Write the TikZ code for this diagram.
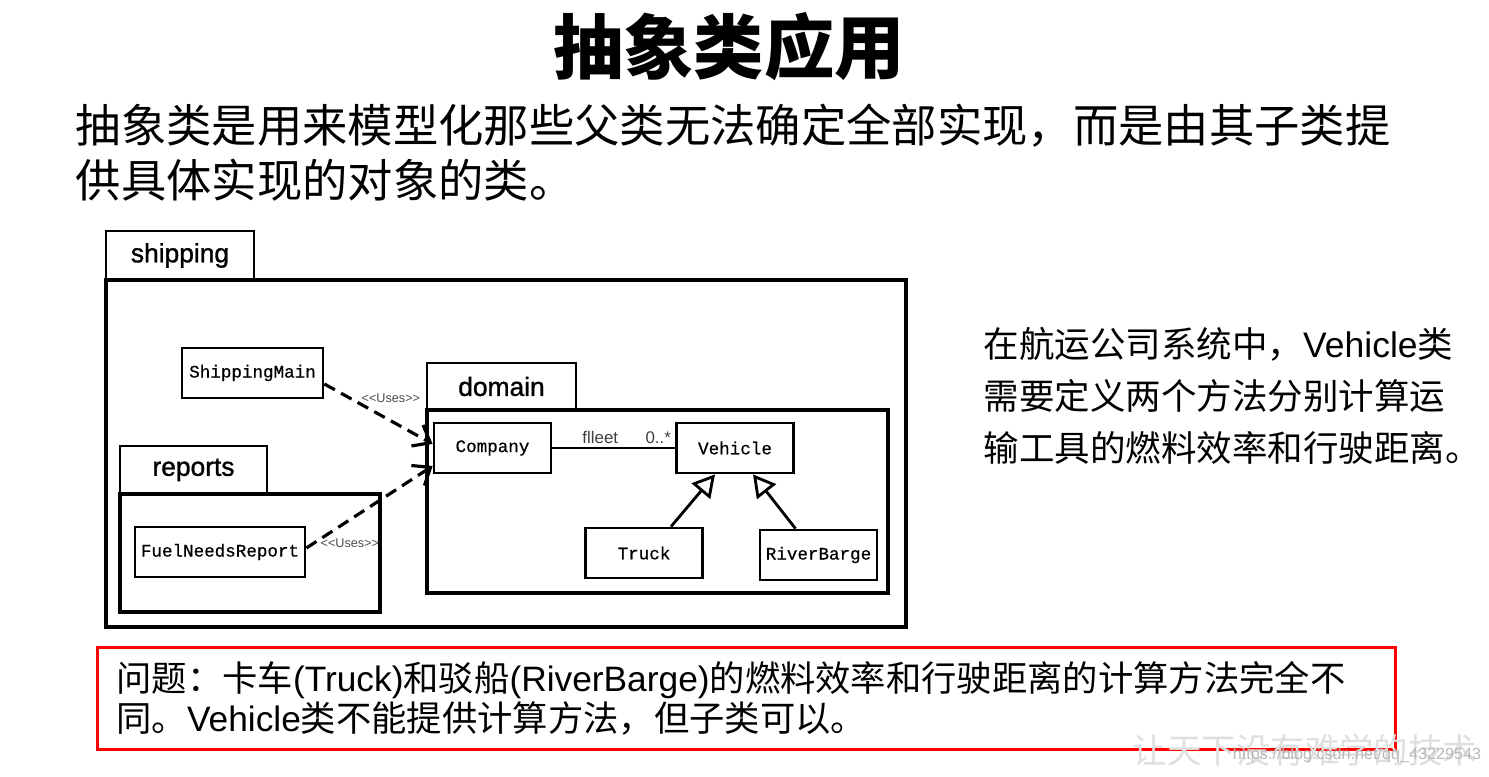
\documentclass[tikz,border=0pt]{standalone}
\usepackage{fontspec}
\setmainfont{Noto Sans CJK SC}
\newfontfamily\arialfont{Liberation Sans}
\newfontfamily\pkgface[FakeBold=1.2]{Liberation Sans}
\newfontfamily\courfont[FakeBold=0.6]{Liberation Mono}
\usetikzlibrary{arrows.meta}
\newcommand{\lat}[1]{{\arialfont #1}}
\newcommand{\titlefont}{\bfseries\fontsize{20}{24}\selectfont}
\newcommand{\bodyfont}{\fontsize{12.9}{15.6}\selectfont}
\newcommand{\notefont}{\fontsize{10.1}{14.8}\selectfont}
\newcommand{\pkgfont}{\pkgface\fontsize{7.5}{8}\selectfont}
\newcommand{\clsfont}{\courfont\fontsize{5}{6}\selectfont}
\newcommand{\usesfont}{\arialfont\fontsize{3.6}{4}\selectfont}
\newcommand{\assocfont}{\arialfont\fontsize{4.8}{5}\selectfont}

\tikzset{
  pkgtab/.style={draw, line width=0.8pt, inner sep=0pt, font=\pkgfont},
  pkgbody/.style={draw, line width=0.9pt, inner sep=0pt},
  cls/.style={draw, line width=0.8pt, minimum width=11.7mm, minimum height=5mm, inner sep=0pt, font=\clsfont},
  uses/.style={line width=0.9pt, dash pattern=on 1.2mm off 0.7mm, -{Straight Barb[length=1.5mm,width=2.4mm]}},
  usestag/.style={font=\usesfont, text=black!70, inner sep=0pt},
  gen/.style={line width=0.8pt, -{Triangle[open, length=2.2mm, width=2.4mm]}},
}

\begin{document}
\begin{tikzpicture}[x=0.1mm, y=-0.1mm]
\useasboundingbox (0,0) rectangle (1489,777);

% heading and text
\node[font=\titlefont] (title) at (729,47) {抽象类应用};
\node[anchor=north west, inner sep=0pt, align=left, font=\bodyfont] (intro) at (75,103)
  {抽象类是用来模型化那些父类无法确定全部实现，而是由其子类提\\供具体实现的对象的类。};
\node[anchor=north west, inner sep=0pt, align=left, font=\notefont] (note) at (983,327)
  {在航运公司系统中，\lat{Vehicle}类\\需要定义两个方法分别计算运\\输工具的燃料效率和行驶距离。};

% packages
\node[pkgbody, minimum width=80mm, minimum height=34.7mm] (shipbody) at (506,453.5) {};
\node[pkgtab, minimum width=14.8mm, minimum height=4.9mm] (shiptab) at (180,255.5) {shipping};
\node[pkgbody, minimum width=46.1mm, minimum height=18.3mm] (dombody) at (657.5,501.5) {};
\node[pkgtab, minimum width=14.9mm, minimum height=4.7mm] (domtab) at (501.5,386.5) {domain};
\node[pkgbody, minimum width=26mm, minimum height=11.8mm] (repbody) at (250,553) {};
\node[pkgtab, minimum width=14.7mm, minimum height=4.8mm] (reptab) at (193.5,470) {reports};

% classes
\node[cls, minimum width=14.1mm] (shipmain) at (252.5,373) {ShippingMain};
\node[cls, minimum width=17mm] (fuel) at (220,552) {FuelNeedsReport};
\node[cls] (company) at (492.5,448) {Company};
\node[cls] (vehicle) at (735,448) {Vehicle};
\node[cls] (truck) at (644,553) {Truck};
\node[cls] (barge) at (818.5,555) {RiverBarge};

% dependencies
\draw[uses] ([yshift=-1.1mm]shipmain.east) -- ([yshift=0.4mm]company.west)
  node[usestag, pos=0.33, anchor=west, yshift=0.6mm] {<<Uses>>};
\draw[uses] ([yshift=0.4mm]fuel.east) -- ([yshift=-1.8mm]company.west)
  node[usestag, pos=0.1, anchor=west, yshift=-0.3mm] {<<Uses>>};

% association and inheritance
\draw[line width=0.8pt] (company) -- (vehicle)
  node[font=\assocfont, text=black!75, pos=0.39, above, inner sep=0.8pt] {flleet}
  node[font=\assocfont, text=black!75, pos=1, above left, inner sep=0.8pt] {0..*};
\draw[gen] ([xshift=2.7mm]truck.north) -- ([xshift=-2mm]vehicle.south);
\draw[gen] ([xshift=-2.3mm]barge.north) -- ([xshift=1.8mm]vehicle.south);

% problem box
\node[draw=red, line width=0.8pt, anchor=north west, minimum width=129.8mm, minimum height=10.2mm,
  text width=126mm, inner xsep=1.9mm, inner ysep=0pt, align=left,
  font=\fontsize{10.05}{11.4}\selectfont] (problem) at (96,646)
  {问题：卡车\lat{(Truck)}和驳船\lat{(RiverBarge)}的燃料效率和行驶距离的计算方法完全不\\同。\lat{Vehicle}类不能提供计算方法，但子类可以。};

% watermark
\node[text=gray!25, font=\fontsize{9.8}{10}\selectfont] (wm) at (1305,750) {让天下没有难学的技术};
\node[text=gray!55, font=\arialfont\fontsize{4.6}{5}\selectfont] (url) at (1357,755) {https://blog.csdn.net/qq\_43229543};
\end{tikzpicture}
\end{document}
